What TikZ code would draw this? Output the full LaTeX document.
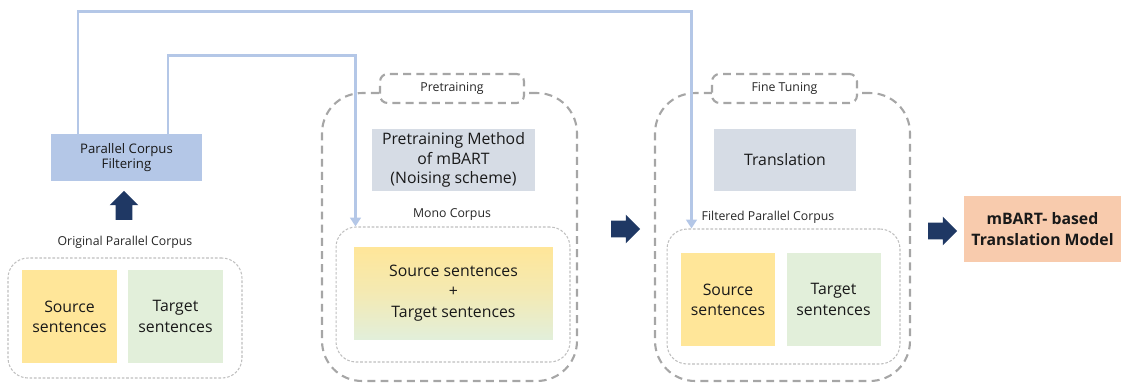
\documentclass[tikz,border=0pt]{standalone}
\usepackage{fontspec}
\setmainfont{Open Sans}
\usetikzlibrary{arrows.meta,shapes.arrows}

\definecolor{filtblue}{HTML}{B4C7E7}
\definecolor{methgray}{HTML}{D6DCE5}
\definecolor{srcyellow}{HTML}{FFE699}
\definecolor{tgtgreen}{HTML}{E2EFDA}
\definecolor{modelorange}{HTML}{F8CBAD}
\definecolor{navy}{HTML}{1F3864}
\definecolor{dashgray}{HTML}{A6A6A6}
\definecolor{dotgray}{HTML}{BFBFBF}

\tikzset{
  plainbox/.style={inner sep=0pt,align=center,text=black!90},
  sentbox/.style={plainbox,minimum width=1.9cm,minimum height=1.86cm,font=\fontsize{9}{11.5}\selectfont},
  corpus/.style={draw=dotgray,line width=0.6pt,dash pattern=on 1.5pt off 1pt,rounded corners=0.4cm,minimum height=2.7cm,inner sep=0pt},
  stage/.style={draw=dashgray,line width=1.2pt,dash pattern=on 4.5pt off 3pt,rounded corners=0.8cm,minimum width=5.1cm,minimum height=5.76cm,inner sep=0pt},
  stagetab/.style={draw=dashgray,fill=white,line width=1.2pt,dash pattern=on 4.5pt off 3pt,rounded corners=0.15cm,minimum height=0.58cm,font=\fontsize{7}{8}\selectfont,text=black!85},
  caption/.style={font=\fontsize{7}{8}\selectfont,text=black!85},
  blockarrow/.style={single arrow,fill=navy,draw=none,inner sep=0.16cm,minimum width=0.56cm,minimum height=0.58cm,single arrow head extend=0.12cm,single arrow head indent=0pt},
  feed/.style={draw=filtblue,line width=1.5pt,-{Triangle[length=5pt,width=6pt]}}
}

\begin{document}
\begin{tikzpicture}[x=0.02cm,y=-0.02cm]
  \useasboundingbox (0,0) rectangle (1124,383);

  % original corpus and filtering
  \node[plainbox,fill=filtblue,minimum width=3.02cm,minimum height=0.94cm,font=\fontsize{7.5}{9}\selectfont] (filt) at (126.5,157.5) {Parallel Corpus\\Filtering};
  \node[blockarrow,shape border rotate=90] (uparr) at (124,209.5) {};
  \node[caption] (origlab) at (125,242) {Original Parallel Corpus};
  \node[corpus,minimum width=4.68cm,minimum height=2.4cm] (origcorp) at (125,318) {};
  \node[sentbox,fill=srcyellow] (origsrc) at (69.5,316.5) {Source\\sentences};
  \node[sentbox,fill=tgtgreen] (origtgt) at (175.5,316.5) {Target\\sentences};

  % pretraining stage
  \node[stage] (pre) at (449.5,237) {};
  \node[stagetab,minimum width=2.88cm] (pretab) at (452,88.5) {Pretraining};
  \node[plainbox,fill=methgray,minimum width=3.26cm,minimum height=1.24cm,font=\fontsize{9}{11}\selectfont] (method) at (453.5,160) {Pretraining Method\\of mBART\\(Noising scheme)};
  \node[caption] (monolab) at (452,215) {Mono Corpus};
  \node[corpus,minimum width=4.68cm] (monocorp) at (453,294.5) {};
  \node[plainbox,top color=srcyellow,bottom color=tgtgreen,middle color=tgtgreen!40!srcyellow,minimum width=3.98cm,minimum height=1.84cm,font=\fontsize{9}{11.5}\selectfont] (mix) at (453.5,293) {Source sentences\\+\\Target sentences};

  \node[blockarrow] (rarr1) at (621.5,229) {};

  % fine tuning stage
  \node[stage] (fine) at (782.5,237) {};
  \node[stagetab,minimum width=2.9cm] (finetab) at (784.5,88.5) {Fine Tuning};
  \node[plainbox,fill=methgray,minimum width=2.84cm,minimum height=1.24cm,font=\fontsize{9}{11}\selectfont] (trans) at (785,160) {Translation};
  \node[caption] (ftlab) at (768,217) {Filtered Parallel Corpus};
  \node[corpus,minimum width=4.66cm] (ftcorp) at (783.5,296.5) {};
  \node[sentbox,fill=srcyellow,minimum width=1.88cm] (ftsrc) at (728,299.5) {Source\\sentences};
  \node[sentbox,fill=tgtgreen,minimum width=1.88cm] (fttgt) at (833.5,299.5) {Target\\sentences};

  \node[blockarrow] (rarr2) at (938.5,231) {};
  \node[plainbox,fill=modelorange,minimum width=3.14cm,minimum height=1.32cm,font=\bfseries\fontsize{9}{12}\selectfont] (model) at (1042.5,229) {mBART- based\\Translation Model};

  % filtered corpus feeds
  \draw[feed] ([xshift=-0.97cm]filt.north) -- ++(0,2.44cm) -| ([xshift=0.5cm]ftcorp.north west);
  \draw[feed] ([xshift=0.83cm]filt.north) -- ++(0,1.56cm) -| ([xshift=0.4cm]monocorp.north west);
\end{tikzpicture}
\end{document}
